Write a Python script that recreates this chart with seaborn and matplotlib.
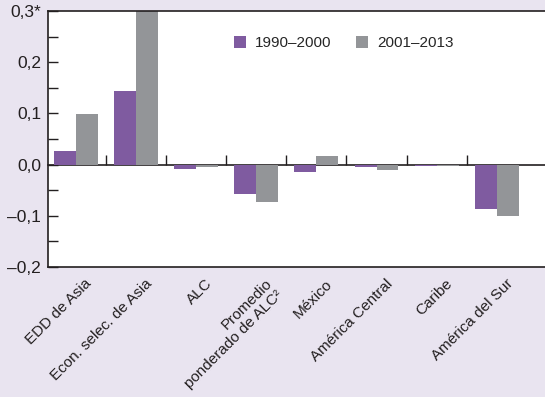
import numpy as np
import pandas as pd
import matplotlib
matplotlib.use("Agg")
import matplotlib.pyplot as plt
import matplotlib.transforms as mtransforms
from matplotlib.patches import Patch
import seaborn as sns

categories = ["EDD de Asia", "Econ. selec. de Asia", "ALC",
              "Promedio\nponderado de ALC²", "México", "América Central",
              "Caribe", "América del Sur"]
periods = ["1990–2000", "2001–2013"]
values_1990_2000 = [0.026, 0.143, -0.008, -0.058, -0.015, -0.004, -0.003, -0.086]
values_2001_2013 = [0.098, 0.300, -0.004, -0.074, 0.016, -0.010, -0.003, -0.101]
y_ticks = [-0.2, -0.1, 0.0, 0.1, 0.2, 0.3]
y_tick_labels = ["–0,2", "–0,1", "0,0", "0,1", "0,2", "0,3*"]

colors = ["#7f5ba0", "#939598"]
bg = "#e9e4f0"

df = pd.DataFrame({
    "categoria": categories * 2,
    "periodo": [periods[0]] * len(categories) + [periods[1]] * len(categories),
    "valor": values_1990_2000 + values_2001_2013,
})

sns.set_theme(style="white")
plt.rcParams["font.family"] = ["Liberation Sans", "DejaVu Sans"]

fig = plt.figure(figsize=(5.45, 3.97), dpi=100, facecolor=bg)
ax = fig.add_axes([48 / 545, 1 - 267 / 397, 1 - 48 / 545, (267 - 11) / 397])
ax.set_facecolor("white")

sns.barplot(data=df, x="categoria", y="valor", hue="periodo", order=categories,
            hue_order=periods, palette=colors, width=0.73, saturation=1,
            linewidth=0, ax=ax, legend=False)

ax.set_ylim(-0.2, 0.3)
ax.set_xlim(-0.46, 7.8)
ax.set_xlabel("")
ax.set_ylabel("")

for side in ["top", "left", "bottom"]:
    ax.spines[side].set_visible(True)
    ax.spines[side].set_color("#231f20")
    ax.spines[side].set_linewidth(1.2)
ax.spines["right"].set_visible(False)

# y axis: labels every 0.1, inward ticks every 0.05
ax.set_yticks(y_ticks)
ax.set_yticklabels(y_tick_labels, fontsize=12.5, color="#231f20")
ax.set_yticks(np.arange(-0.15, 0.3, 0.1), minor=True)
ax.tick_params(axis="y", which="both", direction="in", length=7, width=1,
               color="#231f20", left=True, pad=5)

# x axis: rotated category labels, no tick marks
ax.set_xticks(range(len(categories)))
ax.set_xticklabels(categories, rotation=45, ha="right", va="top",
                   rotation_mode="anchor", fontsize=11, color="#231f20",
                   multialignment="right", linespacing=1.1)
ax.tick_params(axis="x", which="both", bottom=False, length=0, pad=7)
shift = mtransforms.ScaledTranslation(9 / 100, 0, fig.dpi_scale_trans)
for lbl in ax.get_xticklabels():
    lbl.set_transform(lbl.get_transform() + shift)

# zero line with category separators
zero = ax.secondary_xaxis(0.4)
zero.spines["bottom"].set_color("#231f20")
zero.spines["bottom"].set_linewidth(1.2)
zero.set_xticks(np.arange(0.5, len(categories) - 0.5, 1.0))
zero.set_xticklabels([])
zero.tick_params(axis="x", direction="in", length=7, width=1, color="#231f20")

handles = [Patch(facecolor=c, edgecolor="none") for c in colors]
ax.legend(handles, periods, loc="upper center", bbox_to_anchor=(0.595, 0.955),
          ncol=2, frameon=False, fontsize=11, handlelength=0.8,
          handleheight=0.8, columnspacing=1.6, handletextpad=0.6)

fig.savefig("out.png", dpi=100, facecolor=bg)
